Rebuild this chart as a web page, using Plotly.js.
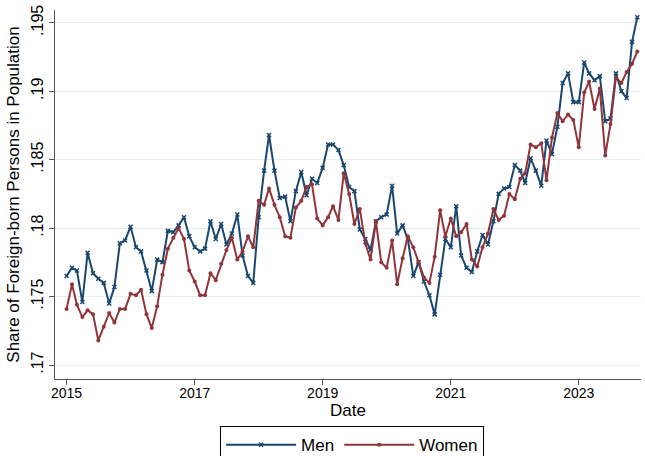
<!DOCTYPE html>
<html>
<head>
<meta charset="utf-8">
<script src="https://cdn.plot.ly/plotly-3.0.1.min.js"></script>
<style>html,body{margin:0;padding:0;background:#fff;}#chart{width:645px;height:456px;}</style>
</head>
<body>
<div id="chart"></div>
<script>
var years = [2015, 2016, 2017, 2018, 2019, 2020, 2021, 2022, 2023];
var men = [
  0.1765, 0.1771, 0.1769, 0.1746, 0.1782, 0.1767, 0.1763, 0.1760, 0.1745, 0.1757, 0.1789, 0.1791,
  0.1801, 0.1786, 0.1783, 0.1769, 0.1754, 0.1777, 0.1775, 0.1798, 0.1797, 0.1802, 0.1808, 0.1794,
  0.1786, 0.1783, 0.1785, 0.1805, 0.1792, 0.1803, 0.1788, 0.1796, 0.1810, 0.1780, 0.1765, 0.1760,
  0.1808, 0.1842, 0.1868, 0.1842, 0.1822, 0.1823, 0.1805, 0.1827, 0.1841, 0.1824, 0.1836, 0.1833,
  0.1844, 0.1861, 0.1861, 0.1857, 0.1846, 0.1830, 0.1827, 0.1799, 0.1792, 0.1784, 0.1805, 0.1808,
  0.1810, 0.1831, 0.1796, 0.1802, 0.1792, 0.1765, 0.1775, 0.1761, 0.1751, 0.1737, 0.1766, 0.1792,
  0.1786, 0.1816, 0.1780, 0.1771, 0.1768, 0.1783, 0.1795, 0.1788, 0.1805, 0.1825, 0.1829, 0.1830,
  0.1846, 0.1842, 0.1833, 0.1851, 0.1842, 0.1831, 0.1864, 0.1854, 0.1874, 0.1906, 0.1913, 0.1892,
  0.1892, 0.1921, 0.1913, 0.1908, 0.1911, 0.1878, 0.1880, 0.1913, 0.1900, 0.1895, 0.1936, 0.1954
];
var women = [
  0.1741, 0.1759, 0.1744, 0.1735, 0.1740, 0.1737, 0.1718, 0.1728, 0.1738, 0.1731, 0.1741, 0.1741,
  0.1752, 0.1751, 0.1755, 0.1737, 0.1727, 0.1743, 0.1766, 0.1785, 0.1793, 0.1800, 0.1792, 0.1769,
  0.1761, 0.1751, 0.1751, 0.1767, 0.1762, 0.1774, 0.1784, 0.1793, 0.1777, 0.1783, 0.1794, 0.1786,
  0.1820, 0.1817, 0.1829, 0.1817, 0.1808, 0.1794, 0.1793, 0.1815, 0.1820, 0.1830, 0.1832, 0.1807,
  0.1802, 0.1808, 0.1816, 0.1806, 0.1840, 0.1825, 0.1803, 0.1814, 0.1789, 0.1777, 0.1805, 0.1775,
  0.1771, 0.1791, 0.1759, 0.1778, 0.1794, 0.1786, 0.1775, 0.1764, 0.1760, 0.1779, 0.1813, 0.1794,
  0.1807, 0.1794, 0.1797, 0.1803, 0.1777, 0.1772, 0.1786, 0.1796, 0.1814, 0.1806, 0.1809, 0.1825,
  0.1821, 0.1836, 0.1840, 0.1861, 0.1859, 0.1862, 0.1835, 0.1866, 0.1884, 0.1878, 0.1883, 0.1879,
  0.1859, 0.1899, 0.1907, 0.1887, 0.1902, 0.1853, 0.1876, 0.1910, 0.1906, 0.1914, 0.1920, 0.1929
];
var xTickVals = ['2015-01-01', '2017-01-01', '2019-01-01', '2021-01-01', '2023-01-01'];
var xTickText = ['2015', '2017', '2019', '2021', '2023'];
var yTickVals = [0.17, 0.175, 0.18, 0.185, 0.19, 0.195];
var yTickText = ['.17', '.175', '.18', '.185', '.19', '.195'];

var dates = [];
years.forEach(function (y) {
  for (var m = 1; m <= 12; m++) dates.push(y + '-' + (m < 10 ? '0' + m : m) + '-01');
});

var traces = [
  {x: dates, y: men, name: 'Men', type: 'scatter', mode: 'lines+markers',
   line: {color: '#1a476f', width: 2},
   marker: {symbol: 'x-thin', size: 4, color: '#1a476f', line: {color: '#1a476f', width: 1.5}}},
  {x: dates, y: women, name: 'Women', type: 'scatter', mode: 'lines+markers',
   line: {color: '#90353b', width: 2},
   marker: {symbol: 'circle', size: 4, color: '#90353b'}}
];

var layout = {
  width: 645, height: 456,
  margin: {l: 55, r: 4, t: 10, b: 77, autoexpand: false},
  paper_bgcolor: '#ffffff', plot_bgcolor: '#ffffff',
  font: {family: 'Arial, Liberation Sans, sans-serif', color: '#000000', size: 14},
  showlegend: true,
  legend: {orientation: 'h', x: 0.507, xanchor: 'center', y: -0.128, yanchor: 'top',
           bordercolor: '#000000', borderwidth: 1, bgcolor: '#ffffff',
           font: {size: 17}, itemwidth: 70, traceorder: 'normal'},
  xaxis: {type: 'date', range: ['2014-10-27', '2023-12-22'],
          tickvals: xTickVals, ticktext: xTickText, tickangle: 0,
          showgrid: false, zeroline: false, showline: true, linecolor: '#555555', linewidth: 1,
          ticks: 'outside', ticklen: 5, tickcolor: '#555555', tickfont: {size: 14},
          ticklabelstandoff: -4,
          title: {text: 'Date', font: {size: 17}, standoff: 0}},
  yaxis: {range: [0.16898, 0.19593], tickvals: yTickVals, ticktext: yTickText, tickangle: -90,
          showgrid: true, gridcolor: '#e6eef0', gridwidth: 1, zeroline: false,
          showline: true, linecolor: '#555555', linewidth: 1,
          ticks: 'outside', ticklen: 5, tickcolor: '#555555', tickfont: {size: 16},
          title: {text: 'Share of Foreign-born Persons in Population', font: {size: 17}, standoff: 4}}
};

Plotly.newPlot('chart', traces, layout, {displayModeBar: false, staticPlot: true});
</script>
</body>
</html>
